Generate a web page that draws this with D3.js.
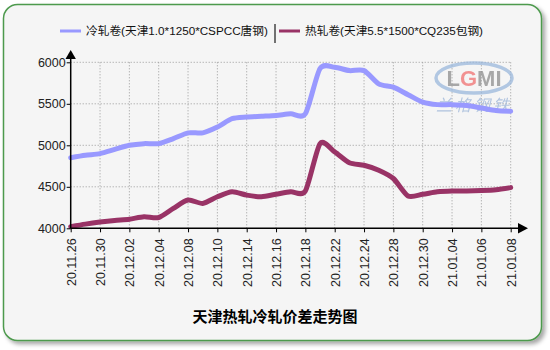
<!DOCTYPE html>
<html>
<head>
<meta charset="utf-8">
<script src="https://cdn.jsdelivr.net/npm/d3@7"></script>
<style>
  html, body { margin: 0; padding: 0; background: #ffffff; }
  svg { display: block; }
</style>
</head>
<body>
<svg id="chart" width="550" height="350"></svg>
<script>
// ---- data ----
const categories = ["20.11.26","20.11.27","20.11.30","20.12.01","20.12.02","20.12.03","20.12.04","20.12.07","20.12.08","20.12.09","20.12.10","20.12.11","20.12.14","20.12.15","20.12.16","20.12.17","20.12.18","20.12.21","20.12.22","20.12.23","20.12.24","20.12.25","20.12.28","20.12.29","20.12.30","20.12.31","21.01.04","21.01.05","21.01.06","21.01.07","21.01.08"];
const tickLabels = ["20.11.26","20.11.30","20.12.02","20.12.04","20.12.08","20.12.10","20.12.14","20.12.16","20.12.18","20.12.22","20.12.24","20.12.28","20.12.30","21.01.04","21.01.06","21.01.08"];
const coldRoll = [4850,4880,4900,4950,5000,5020,5020,5080,5150,5150,5220,5320,5340,5350,5360,5380,5380,5925,5940,5900,5900,5740,5700,5610,5520,5490,5490,5480,5450,5420,5410];
const hotRoll  = [4020,4050,4075,4095,4110,4140,4130,4240,4340,4300,4380,4440,4400,4380,4410,4440,4450,5020,4920,4790,4760,4700,4600,4390,4410,4440,4450,4450,4455,4465,4490];
const yTicks = [4000,4500,5000,5500,6000];
const seriesNames = ["冷轧卷(天津1.0*1250*CSPCC唐钢)", "热轧卷(天津5.5*1500*CQ235包钢)"];
const seriesColors = ["#9999ff", "#993366"];
const title = "天津热轧冷轧价差走势图";

// ---- drawing ----
const svg = d3.select("#chart");
const defs = svg.append("defs");
const f = defs.append("filter").attr("id","shadow").attr("x","-5%").attr("y","-5%").attr("width","115%").attr("height","115%");
f.append("feDropShadow").attr("dx",3).attr("dy",3).attr("stdDeviation",2).attr("flood-color","#000").attr("flood-opacity",0.35);

svg.append("rect")
  .attr("x",3.5).attr("y",4.5).attr("width",538).attr("height",336)
  .attr("rx",14).attr("ry",14)
  .attr("fill","#f5f5f5").attr("stroke","#4e9a4e").attr("stroke-width",1.5)
  .attr("filter","url(#shadow)");

const x = d3.scalePoint().domain(categories).range([70.7, 510.7]);
const y = d3.scaleLinear().domain([4000, 6000]).range([228.3, 62.3]);

// grid
const grid = svg.append("g");
grid.selectAll("line.h").data(yTicks.filter(d => d > 4000)).join("line")
  .attr("x1", x.range()[0]).attr("x2", x.range()[1])
  .attr("y1", d => y(d)).attr("y2", d => y(d))
  .attr("stroke","#999").attr("stroke-width",1).attr("stroke-dasharray","1,2");
grid.selectAll("line.v").data(tickLabels.slice(1)).join("line")
  .attr("x1", d => x(d)).attr("x2", d => x(d))
  .attr("y1", y(6000)).attr("y2", y(4000))
  .attr("stroke","#999").attr("stroke-width",1).attr("stroke-dasharray","1,2");

// watermark
const wm = svg.append("g").attr("opacity",0.75);
wm.append("ellipse").attr("cx",474).attr("cy",78).attr("rx",38).attr("ry",15)
  .attr("fill","none").attr("stroke","#9bb8dc").attr("stroke-width",3.5);
wm.append("text").attr("x",474).attr("y",86).attr("text-anchor","middle")
  .attr("font-family","Liberation Sans, Arial, sans-serif").attr("font-weight","bold")
  .attr("font-size",22).attr("fill","#8e8e8e")
  .html('L<tspan fill="#f07070">G</tspan>MI');
wm.append("text").attr("x",474).attr("y",111).attr("text-anchor","middle")
  .attr("font-family","Noto Sans CJK SC, sans-serif").attr("font-style","italic")
  .attr("font-size",16).attr("fill","#9bb4d8").attr("letter-spacing",3).text("兰格钢铁");

// lines
const line = d3.line().x((d,i) => x(categories[i])).y(d => y(d)).curve(d3.curveCardinal.tension(0.25));
[coldRoll, hotRoll].forEach((s, k) => {
  svg.append("path").datum(s).attr("d", line)
    .attr("fill","none").attr("stroke", seriesColors[k]).attr("stroke-width",5)
    .attr("stroke-linejoin","round").attr("stroke-linecap","round");
});

// axes
const yAxis = svg.append("g").attr("transform", `translate(${x.range()[0]},0)`)
  .call(d3.axisLeft(y).tickValues(yTicks).tickSize(4).tickPadding(1).tickFormat(d3.format("d")));
yAxis.select(".domain").remove();
yAxis.selectAll("text").attr("font-family","Liberation Sans, Arial, sans-serif").attr("font-size",12.5).attr("fill","#222");
svg.append("line").attr("x1",70.7).attr("x2",70.7).attr("y1",228.3).attr("y2",58).attr("stroke","#000").attr("stroke-width",1.5);
svg.append("path").attr("d","M70.7,50 L65.5,59 L75.9,59 Z").attr("fill","#000");

const xAxis = svg.append("g").attr("transform", `translate(0,${y(4000)})`)
  .call(d3.axisBottom(x).tickValues(tickLabels).tickSize(4).tickPadding(4));
xAxis.select(".domain").remove();
xAxis.selectAll("text")
  .attr("font-family","Liberation Sans, Arial, sans-serif").attr("font-size",12.5).attr("fill","#222")
  .attr("transform","rotate(-90)").attr("text-anchor","end")
  .attr("x",-10).attr("y",0).attr("dy","0.35em");
svg.append("line").attr("x1",70.7).attr("x2",520).attr("y1",228.3).attr("y2",228.3).attr("stroke","#000").attr("stroke-width",1.5);
svg.append("path").attr("d","M528,228.3 L518,223 L518,233.6 Z").attr("fill","#000");

// legend
const lg = svg.append("g").attr("font-family","Liberation Sans, Arial, Noto Sans CJK SC, sans-serif").attr("font-size",11.7).attr("fill","#111");
lg.append("line").attr("x1",60).attr("x2",81).attr("y1",31).attr("y2",31).attr("stroke",seriesColors[0]).attr("stroke-width",3);
lg.append("text").attr("x",86).attr("y",35).text(seriesNames[0]);
lg.append("line").attr("x1",275).attr("x2",275).attr("y1",24).attr("y2",43).attr("stroke","#444").attr("stroke-width",1.5);
lg.append("line").attr("x1",279).attr("x2",300).attr("y1",31).attr("y2",31).attr("stroke",seriesColors[1]).attr("stroke-width",3);
lg.append("text").attr("x",305).attr("y",35).text(seriesNames[1]);

// title
svg.append("text").attr("x",275).attr("y",322).attr("text-anchor","middle")
  .attr("font-family","Noto Sans CJK SC, sans-serif").attr("font-weight","bold").attr("font-size",15)
  .attr("fill","#000").text(title);
</script>
</body>
</html>
